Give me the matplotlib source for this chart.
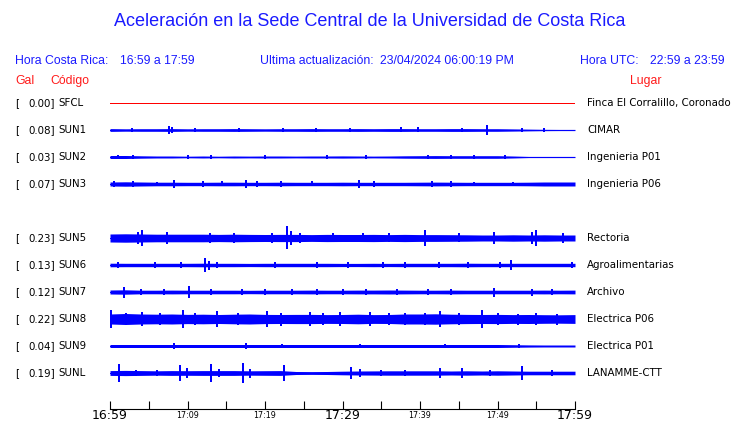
import matplotlib
matplotlib.use("Agg")
import matplotlib.pyplot as plt
import numpy as np

# ---------------- data ----------------
stations = ["SFCL", "SUN1", "SUN2", "SUN3", "SUN5", "SUN6", "SUN7", "SUN8", "SUN9", "SUNL"]
peak_gal = ["0.00", "0.08", "0.03", "0.07", "0.23", "0.13", "0.12", "0.22", "0.04", "0.19"]
places = ["Finca El Corralillo, Coronado", "CIMAR", "Ingenieria P01", "Ingenieria P06",
          "Rectoria", "Agroalimentarias", "Archivo", "Electrica P06", "Electrica P01", "LANAMME-CTT"]
rows = [0, 1, 2, 3, 5, 6, 7, 8, 9, 10]

# envelope (half amplitude) sampled every 2 minutes, 16:59 .. 17:59
env_t = list(range(0, 61, 2))
env = {
    "SFCL": [0.0] * 31,
    "SUN1": [1.4, 1.2, 1.3, 1.3, 1.4, 1.2, 1.3, 1.3, 1.4, 1.3, 1.2, 1.3, 1.3, 1.4, 1.3, 1.3,
             1.4, 1.3, 1.4, 1.4, 1.3, 1.3, 1.4, 1.4, 1.3, 1.3, 1.1, 0.9, 0.7, 0.6, 0.6],
    "SUN2": [1.5, 1.5, 1.2, 1.0, 1.0, 0.8, 1.0, 0.8, 1.0, 0.9, 1.0, 1.0, 0.9, 1.0, 1.0, 1.1,
             1.0, 0.9, 1.0, 1.2, 1.3, 1.4, 1.3, 1.3, 1.3, 1.3, 1.0, 0.6, 0.6, 0.6, 0.6],
    "SUN3": [2.0, 2.2, 2.0, 1.8, 1.8, 1.7, 1.7, 1.8, 1.8, 1.7, 1.7, 1.8, 1.7, 1.7, 1.7, 1.8,
             1.7, 1.7, 1.7, 1.7, 1.8, 1.9, 1.8, 1.7, 1.7, 1.7, 1.7, 1.8, 2.0, 2.0, 2.0],
    "SUN5": [4.0, 4.2, 4.0, 3.8, 3.8, 3.8, 3.8, 3.6, 3.8, 3.6, 3.5, 3.6, 3.6, 3.4, 3.6, 3.5,
             3.5, 3.6, 3.4, 3.6, 3.4, 3.4, 3.3, 3.2, 3.0, 3.0, 3.2, 3.0, 3.2, 3.0, 3.0],
    "SUN6": [1.8, 1.7, 1.7, 1.7, 1.7, 1.7, 1.8, 1.7, 1.7, 1.6, 1.7, 1.7, 1.7, 1.7, 1.7, 1.6,
             1.6, 1.7, 1.6, 1.7, 1.7, 1.7, 1.7, 1.8, 1.7, 1.7, 1.7, 1.7, 1.7, 1.7, 1.7],
    "SUN7": [2.0, 2.2, 1.8, 1.8, 1.9, 1.8, 1.8, 1.8, 1.8, 1.7, 1.8, 1.8, 1.8, 1.9, 1.8, 1.8,
             1.9, 1.9, 2.0, 1.9, 1.8, 1.8, 1.9, 1.8, 1.8, 1.8, 1.8, 1.8, 1.9, 1.8, 1.9],
    "SUN8": [5.0, 5.5, 5.0, 4.8, 5.0, 4.6, 4.8, 4.5, 4.8, 5.0, 4.6, 4.5, 4.6, 4.6, 4.4, 4.5,
             4.8, 4.4, 4.5, 5.0, 5.0, 5.2, 4.8, 4.6, 4.5, 4.6, 4.4, 4.5, 4.3, 4.2, 4.4],
    "SUN9": [1.5, 1.5, 1.5, 1.5, 1.5, 1.5, 1.5, 1.5, 1.5, 1.5, 1.5, 1.5, 1.5, 1.5, 1.5, 1.5,
             1.5, 1.5, 1.5, 1.5, 1.5, 1.5, 1.5, 1.5, 1.5, 1.5, 1.3, 1.1, 1.0, 1.0, 1.0],
    "SUNL": [2.4, 2.6, 2.4, 2.2, 2.4, 2.3, 2.4, 2.4, 2.4, 2.2, 2.3, 2.4, 1.5, 1.4, 1.5, 1.8,
             2.0, 2.1, 2.2, 2.2, 2.2, 2.2, 2.0, 2.2, 2.0, 2.2, 2.0, 1.8, 1.8, 1.8, 1.8],
}

# individual bursts: (minute after 16:59, half amplitude)
spikes = {
    "SFCL": [],
    "SUN1": [(2.8, 2.0), (7.6, 4.0), (8.0, 3.0), (11, 2.0), (16.7, 2.2), (22.3, 2.2), (26.6, 2.0),
             (31, 2.0), (37.6, 2.5), (39.7, 2.5), (45.4, 2.2), (48.6, 4.6), (53.2, 2.2), (56, 1.8)],
    "SUN2": [(1, 2.0), (3, 1.8), (10, 1.8), (13, 2.0), (20, 1.8), (28, 1.8), (33, 2.0), (41, 2.2),
             (44, 2.0), (47, 2.0), (51, 1.8)],
    "SUN3": [(0.5, 2.8), (3, 2.6), (6, 2.4), (8.3, 3.8), (12, 2.6), (14.5, 2.5), (17.6, 3.6), (19, 2.6),
             (22, 2.8), (26, 2.5), (32.1, 3.6), (34, 2.6), (41.5, 2.6), (44, 2.6), (47, 2.4), (52, 2.4)],
    "SUN5": [(3.6, 6.0), (4.1, 8.0), (7.3, 6.0), (12.9, 5.0), (16, 5.0), (20.9, 5.0), (22.8, 11.5),
             (23.4, 7.0), (24.5, 5.0), (28.8, 4.5), (32.6, 4.5), (36, 4.5), (40.6, 8.0), (45, 4.5),
             (49.6, 6.0), (54.5, 6.0), (55, 8.0), (58.5, 5.0)],
    "SUN6": [(1.0, 2.8), (5.8, 3.0), (9.2, 2.8), (12.3, 6.8), (12.8, 4.5), (13.8, 3.2), (21.3, 3.2),
             (26.7, 2.8), (30.7, 2.8), (35.2, 2.8), (38, 2.6), (42.5, 2.8), (46.2, 2.6), (50.3, 3.2),
             (51.8, 5.0), (59.6, 2.6)],
    "SUN7": [(1.8, 5.5), (4, 2.6), (7, 2.6), (10.2, 6.0), (13, 2.6), (17, 2.6), (20, 2.6), (23.5, 2.8),
             (26.7, 3.2), (30, 2.8), (33, 2.6), (37, 2.6), (41, 2.6), (44, 2.8), (49.6, 4.5),
             (54.5, 3.5), (57, 2.6)],
    "SUN8": [(0.1, 9.0), (2, 6.0), (4.1, 7.0), (6.5, 6.0), (9.4, 9.0), (11, 6.0), (13.8, 8.0),
             (16.5, 6.0), (20.2, 8.0), (22, 6.5), (25.8, 7.0), (27.5, 6.0), (29.7, 7.0), (33.5, 7.0),
             (36, 6.0), (38.1, 6.0), (40.6, 6.0), (42.6, 8.0), (45, 6.0), (48.0, 9.0), (50, 6.0),
             (52.7, 5.5), (55, 6.0), (57.7, 5.5)],
    "SUN9": [(8.3, 2.6), (17.5, 2.6), (22.2, 2.4), (32.3, 2.4), (43.2, 2.4), (52.8, 2.4)],
    "SUNL": [(1.2, 8.8), (3.4, 3.2), (6, 3.0), (9.0, 8.0), (9.9, 5.0), (13.0, 9.0), (14.1, 4.0),
             (17.2, 10.0), (18, 4.5), (22.5, 8.0), (31.1, 6.0), (32.3, 4.0), (35, 3.0), (38, 3.0),
             (42.6, 5.0), (45.4, 5.0), (49, 3.0), (53.2, 7.0), (57, 3.0)],
}

tick_minutes = list(range(0, 61, 5))
tick_labels = {0: "16:59", 10: "17:09", 20: "17:19", 30: "17:29", 40: "17:39", 50: "17:49", 60: "17:59"}
big_labels = [0, 30, 60]

# ---------------- layout ----------------
W, H = 740, 423
fig = plt.figure(figsize=(W / 100, H / 100), dpi=100)
fig.patch.set_facecolor("white")

BLUE = "#1a1aff"
RED = "#ff1a1a"
TRACE = "#0000ff"

def fx(px):
    return px / W

def fy(py):
    return 1 - py / H

row_px = 27
x0, x1 = 110, 575
top_px, bot_px = 85, 390
ax = fig.add_axes([fx(x0), fy(bot_px), fx(x1) - fx(x0), (bot_px - top_px) / H])
ax.set_xlim(0, 60)
ax.set_ylim(bot_px - 103, top_px - 103)  # offsets relative to first row centre
ax.axis("off")

for name, r in zip(stations, rows):
    off = r * row_px
    e = np.array(env[name])
    t = np.array(env_t)
    if name == "SFCL":
        ax.plot([0, 60], [off, off], color="#ff0000", lw=0.7, antialiased=False)
        continue
    ax.fill_between(t, off - e, off + e, color=TRACE, lw=0, antialiased=False)
    ax.plot([0, 60], [off, off], color=TRACE, lw=0.7, antialiased=False)
    st = [s[0] for s in spikes[name]]
    sa = np.array([s[1] for s in spikes[name]])
    if len(st):
        ax.vlines(st, off - sa, off + sa, color=TRACE, lw=1.3, antialiased=False)

# time axis
tax = fig.add_axes([fx(x0), fy(409), fx(x1) - fx(x0), 0.0001])
tax.set_xlim(0, 60)
tax.set_yticks([])
for s in ["top", "left", "right"]:
    tax.spines[s].set_visible(False)
tax.spines["bottom"].set_linewidth(0.8)
tax.set_xticks(tick_minutes)
tax.set_xticklabels([""] * len(tick_minutes))
tax.tick_params(axis="x", direction="in", length=6, width=0.8, top=False)
for m, lab in tick_labels.items():
    big = m in big_labels
    tax.annotate(lab, xy=(m, 0), xycoords=("data", "axes fraction"),
                 xytext=(0, -0.3 if big else -1.5), textcoords="offset points",
                 ha="center", va="top", fontsize=9 if big else 5.8,
                 family="DejaVu Sans", color="black")

# titles / headers
fig.text(0.5, fy(22), "Aceleración en la Sede Central de la Universidad de Costa Rica",
         ha="center", va="center", fontsize=13, color=BLUE, family="Liberation Sans")
hdr = dict(va="center", fontsize=8.8, color=BLUE, family="Liberation Sans")
fig.text(fx(15), fy(61), "Hora Costa Rica:", **hdr)
fig.text(fx(120), fy(61), "16:59 a 17:59", **hdr)
fig.text(fx(260), fy(61), "Ultima actualización:", **hdr)
fig.text(fx(380), fy(61), "23/04/2024 06:00:19 PM", **hdr)
fig.text(fx(580), fy(61), "Hora UTC:", **hdr)
fig.text(fx(650), fy(61), "22:59 a 23:59", **hdr)
red = dict(va="center", fontsize=8.8, color=RED, family="Liberation Sans")
fig.text(fx(15), fy(81), "Gal", **red)
fig.text(fx(50), fy(81), "Código", **red)
fig.text(fx(630), fy(81), "Lugar", **red)

lab = dict(va="center", fontsize=7.4, color="black", family="DejaVu Sans")
for name, val, place, r in zip(stations, peak_gal, places, rows):
    yy = 103 + r * row_px
    fig.text(fx(15), fy(yy), "[", **lab)
    fig.text(fx(55), fy(yy), f"{val}]", ha="right", **lab)
    fig.text(fx(58), fy(yy), name, **lab)
    fig.text(fx(587), fy(yy), place, **lab)

fig.savefig("out.png", dpi=100, facecolor="white")
